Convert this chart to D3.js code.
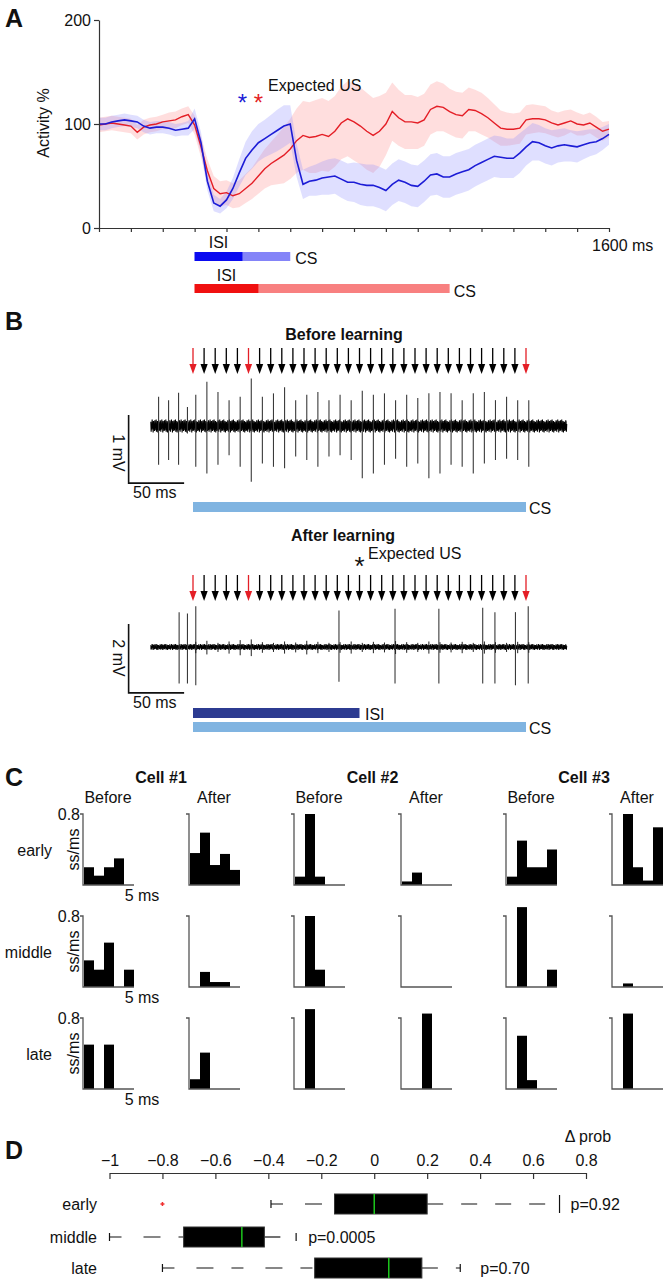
<!DOCTYPE html>
<html><head><meta charset="utf-8">
<script src="https://cdn.jsdelivr.net/npm/d3@7"></script>
<style>
body{margin:0;background:#fff}
svg text{font-family:"Liberation Sans",Arial,Helvetica,sans-serif;fill:#111}
</style></head><body>
<svg id="fig" width="666" height="1281"></svg>
<script>
// ================= DATA =================
// Panel A : population activity (% of baseline), sampled every 20 ms
const timeA = [0,20,40,60,80,100,120,140,160,180,200,220,240,260,280,300,320,340,360,380,400,420,440,460,480,500,520,540,560,580,600,620,640,660,680,700,720,740,760,780,800,820,840,860,880,900,920,940,960,980,1000,1020,1040,1060,1080,1100,1120,1140,1160,1180,1200,1220,1240,1260,1280,1300,1320,1340,1360,1380,1400,1420,1440,1460,1480,1500,1520,1540,1560,1580,1600];
const blueMean = [100,100,102,103,104,103,102,98,96,97,97,96,94,95,96,105,82,45,24,21,27,38,53,67,75,82,86,90,94,98,100,65,42,45,46,48,49,50,47,44,44,42,41,41,39,36,42,46,44,41,40,45,51,52,49,49,52,54,56,60,63,66,69,68,67,67,72,78,83,82,79,77,79,80,79,78,80,82,83,86,90];
const blueSem = [6,6,6,6,6,6,6,6,6,6,6,6,6,6,7,10,10,9,8,7,8,10,13,16,18,18,18,19,20,20,18,16,14,14,15,16,17,17,18,18,19,20,20,20,20,20,20,20,20,20,20,20,20,20,20,20,20,20,20,20,20,20,20,20,19,19,19,18,18,17,17,17,16,16,15,15,14,13,12,11,10];
const redMean = [99,100,101,100,99,98,92,97,99,100,102,103,104,107,109,99,78,55,38,33,34,31,33,38,43,50,57,62,66,70,76,84,89,87,88,90,88,93,101,105,102,98,93,89,93,100,112,106,102,102,101,104,114,117,116,112,109,108,114,113,110,106,101,96,95,95,96,104,105,105,104,101,99,101,103,100,99,101,97,93,95];
const redSem = [7,7,7,7,7,7,7,7,7,7,7,8,8,8,8,9,10,11,12,12,12,12,13,14,15,17,19,21,24,27,29,31,33,34,35,35,34,34,35,36,37,37,37,36,34,30,28,27,26,26,25,25,24,24,23,22,22,22,21,20,20,19,18,17,16,15,15,14,14,13,13,12,12,12,11,11,10,10,10,9,8];
const aXTicks = [0,100,200,300,400,500,600,700,800,900,1000,1100,1200,1300,1400,1500,1600];
const aYTicks = [0,100,200];
const blueISI = [300,450], blueCS = [300,600];
const redISI = [300,500],  redCS = [300,1100];
const expectedUS = [450,500];

// Panel B : stimulation and spikes (time in ms from CS onset, amplitude in mV)
const stimTimes = [0,10,20,30,40,50,60,70,80,90,100,110,120,130,140,150,160,170,180,190,200,210,220,230,240,250,260,270,280,290,300];
const redStimTimes = [0,50,300];
const spikeTimesBefore = [-31,-22,-13,-5,2.5,12.5,22.5,32.5,42.5,52.5,62.5,72.5,82.5,92.5,102.5,112.5,122.5,132.5,142.5,152.5,162.5,172.5,182.5,192.5,202.5,212.5,222.5,232.5,242.5,252.5,262.5,272.5,282.5,292.5,302.5];
const spikeUpBefore = [0.43,0.38,0.49,0.28,0.46,0.65,0.50,0.38,0.43,0.70,0.43,0.48,0.57,0.38,0.46,0.50,0.38,0.46,0.38,0.52,0.46,0.48,0.38,0.46,0.41,0.48,0.50,0.48,0.38,0.48,0.50,0.38,0.43,0.38,0.38];
const spikeDownBefore = [0.57,0.50,0.57,0.11,0.60,0.70,0.57,0.43,0.60,0.82,0.55,0.60,0.62,0.45,0.50,0.60,0.45,0.43,0.50,0.77,0.70,0.57,0.48,0.60,0.55,0.77,0.70,0.57,0.60,0.70,0.55,0.50,0.48,0.50,0.60];
const spikeTimesAfter = [-12.5,-5,2.5,131.5,182,221.5,261,272,290.5,302];
const spikeUpAfter = [1.01,0.97,1.18,1.06,1.11,1.11,1.14,1.01,1.01,1.18];
const spikeDownAfter = [1.06,1.06,1.11,1.01,1.06,1.06,1.06,1.06,1.11,1.06];
const artifactAfter = [0.15,0.18,0.12,0.16,0.2,0.22,0.14,0.12,0.16,0.13,0.18,0.15,0.12,0.14,0.16,0.12,0.15,0.13,0.17,0.14,0.12,0.16,0.14,0.13,0.15,0.12,0.16,0.14,0.12,0.15,0.14];
const noisePattern = [0.06,-0.08,0.03,-0.05,0.09,-0.02,0.05,-0.09,0.07,-0.04,0.02,-0.07,0.08,-0.06,0.04,-0.03,0.09,-0.08,0.01,-0.05,0.07,-0.09,0.05,-0.02,0.06,-0.07,0.03,-0.06,0.08];
const afterISI = [0,150], bCS = [0,300];

// Panel C : simple-spike histograms (ss/ms), 5 bins of 1 ms
const cellNames = ["Cell #1","Cell #2","Cell #3"];
const condNames = ["Before","After"];
const epochNames = ["early","middle","late"];
const binEdges = [0,1,2,3,4,5];
const histEarly = [
  [0.20,0.105,0.20,0.30,0],[0.36,0.59,0.225,0.35,0.17],
  [0.094,0.80,0.094,0,0],[0.04,0.14,0,0,0],
  [0.094,0.50,0.20,0.20,0.40],[0,0.80,0.20,0.05,0.65]];
const histMiddle = [
  [0.30,0.195,0.50,0,0.195],[0,0.17,0.056,0.056,0],
  [0,0.80,0.195,0,0],[0,0,0,0,0],
  [0,0.90,0,0,0.195],[0,0.04,0,0,0]];
const histLate = [
  [0.50,0,0.50,0,0],[0.11,0.41,0,0,0],
  [0,0.90,0,0,0],[0,0,0.85,0,0],
  [0,0.60,0.10,0,0],[0,0.85,0,0,0]];

// Panel D : change in probability box plots
const dRows = ["early","middle","late"];
const dLow  = [-0.39,-1.0,-0.80];
const dQ1   = [-0.15,-0.72,-0.225];
const dMed  = [0.0,-0.50,0.055];
const dQ3   = [0.20,-0.415,0.18];
const dHigh = [0.70,-0.295,0.325];
const dOutliers = [[-0.80],[],[]];
const dPvals = ["p=0.92","p=0.0005","p=0.70"];
const dTicks = [-1,-0.8,-0.6,-0.4,-0.2,0,0.2,0.4,0.6,0.8];

// ================= DRAW =================
const svg = d3.select("#fig");
svg.append("rect").attr("width",666).attr("height",1281).attr("fill","#fff");
const F = 16;
function label(txt,x,y,opt={}){
  const t = svg.append("text").attr("x",x).attr("y",y).text(txt)
    .attr("font-size",opt.size||F).attr("text-anchor",opt.anchor||"start");
  if(opt.bold) t.attr("font-weight","bold");
  if(opt.fill) t.style("fill",opt.fill);
  if(opt.rotate!==undefined) t.attr("transform",`rotate(${opt.rotate},${x},${y})`);
  return t;
}
// panel letters
label("A",5,27,{size:25,bold:true});
label("B",5,330,{size:25,bold:true});
label("C",5,786,{size:25,bold:true});
label("D",5,1159,{size:25,bold:true});

// ---------- Panel A ----------
const xA = d3.scaleLinear().domain([0,1600]).range([99,609]);
const yA = d3.scaleLinear().domain([0,200]).range([228,20]);
const gA = svg.append("g");
const area = (m,s)=>d3.area().x((d,i)=>xA(timeA[i])).y0((d,i)=>yA(m[i]-s[i])).y1((d,i)=>yA(m[i]+s[i]));
const line = (m)=>d3.line().x((d,i)=>xA(timeA[i])).y((d,i)=>yA(m[i]));
gA.append("path").attr("d",area(redMean,redSem)(timeA)).attr("fill","#ff8a8a").attr("opacity",0.28);
gA.append("path").attr("d",area(blueMean,blueSem)(timeA)).attr("fill","#8c8cff").attr("opacity",0.28);
gA.append("path").attr("d",line(redMean)(timeA)).attr("fill","none").attr("stroke","#e41e26").attr("stroke-width",1.4);
gA.append("path").attr("d",line(blueMean)(timeA)).attr("fill","none").attr("stroke","#1c1cd6").attr("stroke-width",1.6);
const axA = gA.append("g").attr("transform","translate(0,228)")
  .call(d3.axisBottom(xA).tickValues(aXTicks).tickSize(4).tickSizeOuter(0).tickFormat(""));
const ayA = gA.append("g").attr("transform","translate(99,0)")
  .call(d3.axisLeft(yA).tickValues(aYTicks).tickSize(5).tickSizeOuter(0).tickPadding(3));
[axA,ayA].forEach(a=>{a.selectAll("path,line").attr("stroke","#333").attr("stroke-width",1.2);
  a.selectAll("text").attr("font-size",F).style("fill","#111").attr("font-family","Liberation Sans, Arial");});
label("1600 ms",592,251);
label("Activity %",49,123,{anchor:"middle",rotate:-90});
label("*",xA(expectedUS[0]),111,{anchor:"middle",size:24,fill:"#1c1cd6"});
label("*",xA(expectedUS[1]),111,{anchor:"middle",size:24,fill:"#e41e26"});
label("Expected US",268,91);
// stimulus bars
gA.append("rect").attr("x",xA(blueCS[0])).attr("width",xA(blueCS[1])-xA(blueCS[0])).attr("y",252).attr("height",9).attr("fill","#8484f8");
gA.append("rect").attr("x",xA(blueISI[0])).attr("width",xA(blueISI[1])-xA(blueISI[0])).attr("y",252).attr("height",9).attr("fill","#0a0af0");
label("ISI",(xA(blueISI[0])+xA(blueISI[1]))/2,248,{anchor:"middle"});
label("CS",xA(blueCS[1])+5,264);
gA.append("rect").attr("x",xA(redCS[0])).attr("width",xA(redCS[1])-xA(redCS[0])).attr("y",284).attr("height",9).attr("fill","#f88080");
gA.append("rect").attr("x",xA(redISI[0])).attr("width",xA(redISI[1])-xA(redISI[0])).attr("y",284).attr("height",9).attr("fill","#f01010");
label("ISI",(xA(redISI[0])+xA(redISI[1]))/2,281,{anchor:"middle"});
label("CS",xA(redCS[1])+4,297);

// ---------- Panel B ----------
const xB = d3.scaleLinear().domain([0,300]).range([193,526]);
function stimArrows(yTop){
  const g = svg.append("g");
  stimTimes.forEach(t=>{
    const c = redStimTimes.includes(t) ? "#e41e26" : "#000";
    const x = xB(t);
    g.append("line").attr("x1",x).attr("x2",x).attr("y1",yTop).attr("y2",yTop+20).attr("stroke",c).attr("stroke-width",1.3);
    g.append("path").attr("d",`M${x-3.6},${yTop+16}L${x+3.6},${yTop+16}L${x},${yTop+26}Z`).attr("fill",c);
  });
}
function trace(yScale, spikeT, up, down, noiseGain, width){
  const g = svg.append("g");
  const pts = [];
  let i = 0;
  for(let t=-38; t<=337; t+=0.3){ pts.push([xB(t), yScale(noisePattern[i%noisePattern.length]*noiseGain)]); i++; }
  g.append("path").attr("d",d3.line()(pts)).attr("fill","none").attr("stroke","#000").attr("stroke-width",width);
  spikeT.forEach((t,k)=>{
    g.append("line").attr("x1",xB(t)).attr("x2",xB(t)).attr("y1",yScale(up[k])).attr("y2",yScale(-down[k]))
      .attr("stroke","#3a3a3a").attr("stroke-width",1.1);
  });
  return g;
}
// Before learning
label("Before learning",344,340,{anchor:"middle",bold:true});
stimArrows(348);
const yB1 = d3.scaleLinear().domain([-1,1]).range([426+68,426-68]);
trace(yB1, spikeTimesBefore, spikeUpBefore, spikeDownBefore, 1.05, 1.1);
svg.append("path").attr("d",`M${xB(-58)},${yB1(0.16)}V${yB1(-0.84)}H${xB(-58+50)}`).attr("fill","none").attr("stroke","#111").attr("stroke-width",1.6);
label("1 mV",113,453,{anchor:"middle",rotate:90});
label("50 ms",133,498);
svg.append("rect").attr("x",xB(bCS[0])).attr("width",xB(bCS[1])-xB(bCS[0])).attr("y",502).attr("height",10).attr("fill","#80b4e1");
label("CS",529,514);
// After learning
label("After learning",343,541,{anchor:"middle",bold:true});
label("*",xB(expectedUS[0]-300),575,{anchor:"middle",size:26});
label("Expected US",368,559);
stimArrows(575);
const yB2 = d3.scaleLinear().domain([-1,1]).range([647+34.5,647-34.5]);
const gT2 = trace(yB2, spikeTimesAfter, spikeUpAfter, spikeDownAfter, 0.9, 1.0);
stimTimes.forEach((t,k)=>{
  gT2.append("line").attr("x1",xB(t+2.5)).attr("x2",xB(t+2.5)).attr("y1",yB2(artifactAfter[k])).attr("y2",yB2(-artifactAfter[k]*1.2))
    .attr("stroke","#222").attr("stroke-width",1);
});
svg.append("path").attr("d",`M${xB(-58)},${yB2(0.67)}V${yB2(-1.33)}H${xB(-58+50)}`).attr("fill","none").attr("stroke","#111").attr("stroke-width",1.6);
label("2 mV",113,658,{anchor:"middle",rotate:90});
label("50 ms",133,708);
svg.append("rect").attr("x",xB(afterISI[0])).attr("width",xB(afterISI[1])-xB(afterISI[0])).attr("y",708).attr("height",10).attr("fill","#2c3b91");
label("ISI",365,720);
svg.append("rect").attr("x",xB(bCS[0])).attr("width",xB(bCS[1])-xB(bCS[0])).attr("y",722).attr("height",10).attr("fill","#80b4e1");
label("CS",529,734);

// ---------- Panel C ----------
const colX = [83,189,294,401,506,612];
const rowBase = [885,987,1089];
const hists = [histEarly,histMiddle,histLate];
cellNames.forEach((c,i)=>label(c,(colX[2*i]+colX[2*i+1])/2+25,783,{anchor:"middle",bold:true}));
colX.forEach((x,j)=>label(condNames[j%2],x+25,803,{anchor:"middle"}));
epochNames.forEach((e,r)=>{
  const base = rowBase[r];
  const ys = d3.scaleLinear().domain([0,0.8]).range([base,base-71]);
  label(e,52,ys(0.4)+6,{anchor:"end"});
  label("0.8",80,ys(0.8)+6,{anchor:"end"});
  label("ss/ms",79,ys(0.4),{anchor:"middle",rotate:-90});
  label("5 ms",142,base+16,{anchor:"middle"});
  colX.forEach((x0,j)=>{
    const xs = d3.scaleLinear().domain([0,5]).range([x0+1,x0+51]);
    const g = svg.append("g");
    hists[r][j].forEach((v,k)=>{
      if(v<=0) return;
      g.append("rect").attr("x",xs(binEdges[k])).attr("width",xs(binEdges[k+1])-xs(binEdges[k]))
        .attr("y",ys(v)).attr("height",base-ys(v)).attr("fill","#000");
    });
    g.append("path").attr("d",`M${x0-3},${ys(0.8)}H${x0}V${base}H${x0+51}`).attr("fill","none").attr("stroke","#555").attr("stroke-width",1.3);
  });
});

// ---------- Panel D ----------
const xD = d3.scaleLinear().domain([-1,0.8]).range([109.5,586]);
const rowY = [1204,1237,1268];
const axD = svg.append("g").attr("transform","translate(0,1173)")
  .call(d3.axisTop(xD).tickValues(dTicks).tickSizeInner(-6).tickSizeOuter(0).tickPadding(7)
    .tickFormat(d=>d===0?"0":d3.format(".1~f")(d)));
axD.selectAll("path,line").attr("stroke","#333").attr("stroke-width",1.2);
axD.selectAll("text").attr("font-size",F).style("fill","#111").attr("font-family","Liberation Sans, Arial");
label("Δ prob",588,1142,{anchor:"middle"});
const capH = [[8,18],[8,8],[8,8]];
dRows.forEach((r,i)=>{
  const y = rowY[i], g = svg.append("g");
  label(r,97,y+6,{anchor:"end"});
  g.append("line").attr("x1",xD(dLow[i])).attr("x2",xD(dQ1[i])).attr("y1",y).attr("y2",y)
    .attr("stroke","#111").attr("stroke-width",1.2).attr("stroke-dasharray","12,22,17,18");
  g.append("line").attr("x1",xD(dQ3[i])).attr("x2",xD(dHigh[i])).attr("y1",y).attr("y2",y)
    .attr("stroke","#111").attr("stroke-width",1.2).attr("stroke-dasharray","16,18");
  g.append("line").attr("x1",xD(dLow[i])).attr("x2",xD(dLow[i])).attr("y1",y-capH[i][0]/2).attr("y2",y+capH[i][0]/2).attr("stroke","#111").attr("stroke-width",1.2);
  g.append("line").attr("x1",xD(dHigh[i])).attr("x2",xD(dHigh[i])).attr("y1",y-capH[i][1]/2).attr("y2",y+capH[i][1]/2).attr("stroke","#111").attr("stroke-width",1.2);
  g.append("rect").attr("x",xD(dQ1[i])).attr("width",xD(dQ3[i])-xD(dQ1[i])).attr("y",y-10).attr("height",20).attr("fill","#000").attr("stroke","#333");
  g.append("line").attr("x1",xD(dMed[i])).attr("x2",xD(dMed[i])).attr("y1",y-10).attr("y2",y+10).attr("stroke","#1ed41e").attr("stroke-width",1.4);
  dOutliers[i].forEach(o=>{
    g.append("path").attr("d",`M${xD(o)-2},${y}H${xD(o)+2}M${xD(o)},${y-2}V${y+2}`).attr("stroke","#f03030").attr("stroke-width",1.5);
  });
  const px = i===0 ? xD(dHigh[i])+11 : xD(dHigh[i])+12 + (i===2?8:0);
  label(dPvals[i],px,y+6);
});
</script>
</body></html>
